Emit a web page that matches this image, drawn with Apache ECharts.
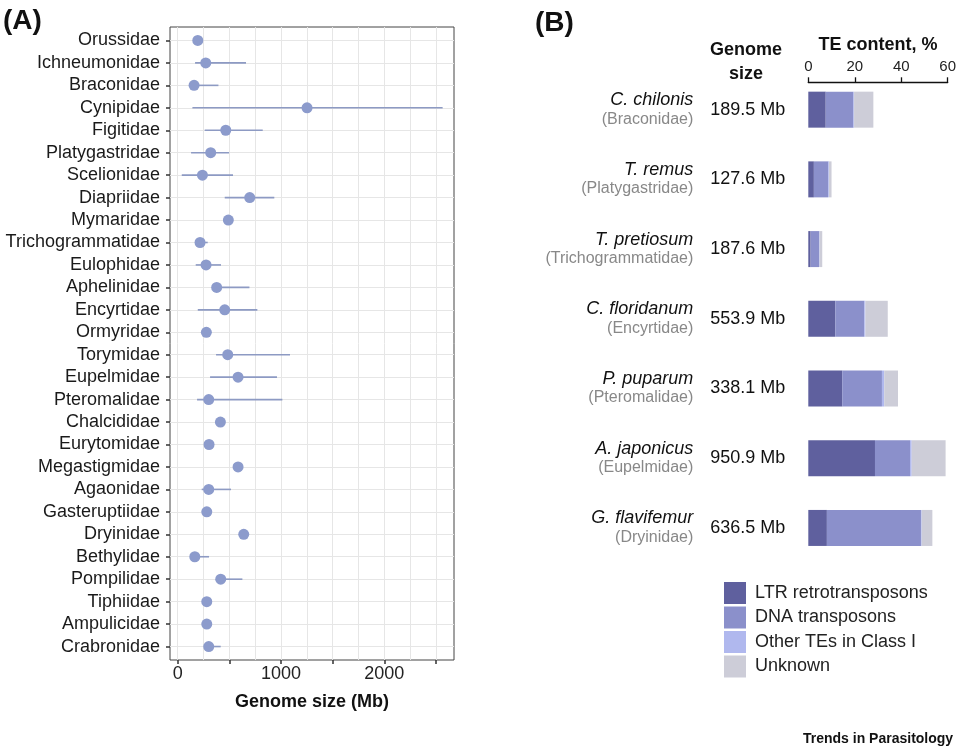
<!DOCTYPE html>
<html>
<head>
<meta charset="utf-8">
<script src="https://cdn.jsdelivr.net/npm/echarts@6/dist/echarts.min.js"></script>
<style>
html,body{margin:0;padding:0;background:#fff;}
#c{width:960px;height:748px;}
</style>
</head>
<body>
<div id="c"></div>
<script>
// ---------- Panel A data ----------
const families = ['Orussidae','Ichneumonidae','Braconidae','Cynipidae','Figitidae','Platygastridae','Scelionidae','Diapriidae','Mymaridae','Trichogrammatidae','Eulophidae','Aphelinidae','Encyrtidae','Ormyridae','Torymidae','Eupelmidae','Pteromalidae','Chalcididae','Eurytomidae','Megastigmidae','Agaonidae','Gasteruptiidae','Dryinidae','Bethylidae','Pompilidae','Tiphiidae','Ampulicidae','Crabronidae'];
const meanSize = [194, 271, 158, 1252, 465, 319, 239, 697, 490, 216, 274, 377, 455, 277, 484, 584, 300, 413, 303, 584, 300, 281, 639, 165, 416, 281, 281, 300];
const minSize  = [null, 168, 119, 142, 261, 129, 39, 455, null, 190, 174, 360, 194, null, 371, 313, 187, null, null, null, 232, null, null, 150, 400, null, null, 255];
const maxSize  = [null, 661, 394, 2565, 823, 497, 535, 935, null, 290, 419, 694, 771, null, 1087, 961, 1013, null, null, null, 516, null, null, 303, 626, null, null, 416];
const xTicksA  = [0, 500, 1000, 1500, 2000, 2500];
const xLabelsA = [0, 1000, 2000];
const xGridA   = [0, 250, 500, 750, 1000, 1250, 1500, 1750, 2000, 2250, 2500];
const yIdxA    = [0,1,2,3,4,5,6,7,8,9,10,11,12,13,14,15,16,17,18,19,20,21,22,23,24,25,26,27];

// ---------- Panel B data ----------
const species = ['C. chilonis','T. remus','T. pretiosum','C. floridanum','P. puparum','A. japonicus','G. flavifemur'];
const speciesFamily = ['Braconidae','Platygastridae','Trichogrammatidae','Encyrtidae','Pteromalidae','Eupelmidae','Dryinidae'];
const genomeSize = ['189.5','127.6','187.6','553.9','338.1','950.9','636.5'];
const ltr     = [7.5, 2.4, 1.0, 11.6, 14.6, 28.7, 8.0];
const dna     = [11.9, 6.2, 3.7, 12.5, 17.1, 15.1, 40.5];
const otherTE = [0.3, 0.3, 0.2, 0.5, 1.0, 0.7, 0.3];
const unknown = [8.3, 1.1, 1.1, 9.6, 5.9, 14.6, 4.6];
const teNames = ['LTR retrotransposons','DNA transposons','Other TEs in Class I','Unknown'];
const teColors = ['#5f609e','#8b90cb','#b0b8ee','#cdcdd8'];
const xTicksB = [0, 20, 40, 60];

const FONT = '"Liberation Sans", Arial, Helvetica, sans-serif';
const chart = echarts.init(document.getElementById('c'));

const rangeData = [];
families.forEach((f, i) => { if (minSize[i] !== null) rangeData.push([i, minSize[i], maxSize[i]]); });
const pointData = meanSize.map((v, i) => [v, i]);

const option = {
  backgroundColor: '#fff',
  textStyle: { fontFamily: FONT },
  animation: false,
  title: [
    { text: '(A)', left: 3, top: 7, padding: 0, textStyle: { fontSize: 28, fontWeight: 'bold', color: '#111', fontFamily: FONT } },
    { text: '(B)', left: 535, top: 9, padding: 0, textStyle: { fontSize: 28, fontWeight: 'bold', color: '#111', fontFamily: FONT } },
    { text: 'Genome\nsize', left: 746, top: 38, padding: 0, textAlign: 'center', textStyle: { fontSize: 18, fontWeight: 'bold', color: '#111', lineHeight: 24, fontFamily: FONT } },
    { text: 'Trends in Parasitology', left: 803, top: 732, padding: 0, textStyle: { fontSize: 14, fontWeight: 'bold', color: '#111', fontFamily: FONT } }
  ],
  legend: {
    data: teNames,
    orient: 'vertical',
    left: 724, top: 582,
    padding: 0,
    itemWidth: 22, itemHeight: 22, itemGap: 2.5,
    icon: 'rect',
    selectedMode: false,
    textStyle: { fontSize: 18, color: '#222', fontFamily: FONT, padding: [0, 0, 0, 4] }
  },
  grid: [
    { left: 170, top: 27, width: 284, height: 633, show: true, borderColor: '#444', borderWidth: 1, backgroundColor: 'transparent' },
    { left: 808.3, top: 74.8, width: 139.4, height: 488 }
  ],
  xAxis: [
    {
      gridIndex: 0, type: 'value', min: -75, max: 2675, position: 'bottom',
      name: 'Genome size (Mb)', nameLocation: 'middle', nameGap: 33,
      nameTextStyle: { fontSize: 18, fontWeight: 'bold', color: '#111', fontFamily: FONT },
      axisLine: { show: false, onZero: false },
      axisTick: { show: true, length: 4, customValues: xTicksA, lineStyle: { color: '#333', width: 1.5 } },
      axisLabel: { customValues: xLabelsA, fontSize: 18, color: '#222', margin: 5, fontFamily: FONT,
                   formatter: v => String(v) },
      splitLine: { show: false }
    },
    {
      gridIndex: 0, type: 'value', min: -75, max: 2675, position: 'bottom',
      axisLine: { show: false, onZero: false },
      axisTick: { show: false, customValues: xGridA },
      axisLabel: { show: false },
      splitLine: { show: true, lineStyle: { color: '#e6e6e6', width: 1 } }
    },
    {
      gridIndex: 1, type: 'value', min: 0, max: 60, interval: 20, position: 'top', offset: -7.5,
      name: 'TE content, %', nameLocation: 'middle', nameGap: 23,
      nameTextStyle: { fontSize: 18, fontWeight: 'bold', color: '#111', fontFamily: FONT },
      axisLine: { show: true, onZero: false, lineStyle: { color: '#111', width: 1.3 } },
      axisTick: { show: true, length: 5, customValues: xTicksB, lineStyle: { color: '#111', width: 1.3 } },
      axisLabel: { fontSize: 15, color: '#222', margin: 8, fontFamily: FONT },
      splitLine: { show: false }
    }
  ],
  yAxis: [
    {
      gridIndex: 0, type: 'value', min: -0.6, max: 27.6, inverse: true,
      axisLine: { show: false, onZero: false },
      axisTick: { show: true, length: 4, customValues: yIdxA, lineStyle: { color: '#333', width: 1.5 } },
      axisLabel: { customValues: yIdxA, fontSize: 18, color: '#1a1a1a', margin: 10, fontFamily: FONT,
                   formatter: v => families[Math.round(v)] },
      splitLine: { show: true, lineStyle: { color: '#e6e6e6', width: 1 } }
    },
    {
      gridIndex: 1, type: 'category', data: species, inverse: true, position: 'left',
      axisLine: { show: false, onZero: false }, axisTick: { show: false },
      axisLabel: {
        margin: 115, align: 'right', fontFamily: FONT,
        formatter: (v, i) => '{sp|' + v + '}\n{fam|(' + speciesFamily[i] + ')}',
        rich: {
          sp: { fontSize: 18, fontStyle: 'italic', color: '#111', lineHeight: 19, align: 'right', fontFamily: FONT },
          fam: { fontSize: 16, color: '#888', lineHeight: 19, align: 'right', fontFamily: FONT }
        }
      }
    },
    {
      gridIndex: 1, type: 'category', data: species, inverse: true, position: 'left', offset: 0,
      axisLine: { show: false, onZero: false }, axisTick: { show: false },
      axisLabel: {
        margin: 98, align: 'left', fontSize: 18, color: '#111', fontFamily: FONT,
        formatter: (v, i) => genomeSize[i] + ' Mb'
      }
    }
  ],
  series: [
    {
      type: 'custom', name: 'range', xAxisIndex: 0, yAxisIndex: 0, silent: true,
      data: rangeData,
      encode: { x: [1, 2], y: 0 },
      renderItem: (params, api) => {
        const lo = api.coord([api.value(1), api.value(0)]);
        const hi = api.coord([api.value(2), api.value(0)]);
        return { type: 'line', shape: { x1: lo[0], y1: lo[1], x2: hi[0], y2: hi[1] },
                 style: { stroke: '#8d9ac3', lineWidth: 1.6 } };
      }
    },
    {
      type: 'scatter', name: 'mean', xAxisIndex: 0, yAxisIndex: 0, silent: true,
      data: pointData, symbolSize: 11,
      itemStyle: { color: '#8c9bcc', opacity: 1 }
    },
    { type: 'bar', name: teNames[0], stack: 'te', xAxisIndex: 2, yAxisIndex: 1, barWidth: 36, data: ltr, itemStyle: { color: teColors[0] } },
    { type: 'bar', name: teNames[1], stack: 'te', xAxisIndex: 2, yAxisIndex: 1, barWidth: 36, data: dna, itemStyle: { color: teColors[1] } },
    { type: 'bar', name: teNames[2], stack: 'te', xAxisIndex: 2, yAxisIndex: 1, barWidth: 36, data: otherTE, itemStyle: { color: teColors[2] } },
    { type: 'bar', name: teNames[3], stack: 'te', xAxisIndex: 2, yAxisIndex: 1, barWidth: 36, data: unknown, itemStyle: { color: teColors[3] } }
  ]
};
chart.setOption(option);
</script>
</body>
</html>
